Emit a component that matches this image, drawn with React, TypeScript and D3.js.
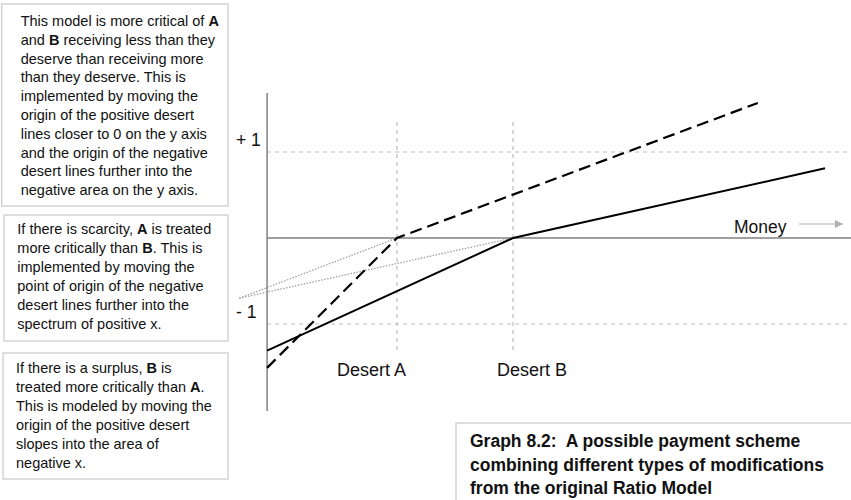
import React from "react";
import * as d3 from "d3";

// ---- data ----
const deserts = [
  { name: "Desert A", x: 1 },
  { name: "Desert B", x: 2 },
];
const yTicks = [
  { value: 1, label: "+ 1" },
  { value: -1, label: "- 1" },
];
const axisX = -0.12; // x position of the vertical axis (money units)
const lineA: [number, number][] = [
  [-0.12, -1.51],
  [1, 0],
  [4.11, 1.57],
];
const lineB: [number, number][] = [
  [-0.12, -1.31],
  [2, 0],
  [4.69, 0.81],
];
const dottedOrigin: [number, number] = [-0.36, -0.7];
const dottedTargets: [number, number][] = [
  [1, 0],
  [2, 0],
];
const xLabel = "Money";

type Seg = { t: string; b?: boolean };
const note1: Seg[][] = [
  [{ t: "This model is more critical of " }, { t: "A", b: true }],
  [{ t: "and " }, { t: "B", b: true }, { t: " receiving less than they" }],
  [{ t: "deserve than receiving more" }],
  [{ t: "than they deserve. This is" }],
  [{ t: "implemented by moving the" }],
  [{ t: "origin of the positive desert" }],
  [{ t: "lines closer to 0 on the y axis" }],
  [{ t: "and the origin of the negative" }],
  [{ t: "desert lines further into the" }],
  [{ t: "negative area on the y axis." }],
];
const note2: Seg[][] = [
  [{ t: "If there is scarcity, " }, { t: "A", b: true }, { t: " is treated" }],
  [{ t: "more critically than " }, { t: "B", b: true }, { t: ". This is" }],
  [{ t: "implemented by moving the" }],
  [{ t: "point of origin of the negative" }],
  [{ t: "desert lines further into the" }],
  [{ t: "spectrum of positive x." }],
];
const note3: Seg[][] = [
  [{ t: "If there is a surplus, " }, { t: "B", b: true }, { t: " is" }],
  [{ t: "treated more critically than " }, { t: "A", b: true }, { t: "." }],
  [{ t: "This is modeled by moving the" }],
  [{ t: "origin of the positive desert" }],
  [{ t: "slopes into the area of" }],
  [{ t: "negative x." }],
];
const caption = [
  "Graph 8.2:  A possible payment scheme",
  "combining different types of modifications",
  "from the original Ratio Model",
];

const FONT = "'Liberation Sans', Arial, Helvetica, sans-serif";

function NoteBox({
  lines,
  x,
  y,
  w,
  h,
  tx,
  ty,
  lh,
}: {
  lines: Seg[][];
  x: number;
  y: number;
  w: number;
  h: number;
  tx: number;
  ty: number;
  lh: number;
}) {
  return (
    <g>
      <rect x={x} y={y} width={w} height={h} fill="#fff" stroke="#c8c8c8" strokeWidth={1.2} />
      <text fontFamily={FONT} fontSize={14.5} fill="#111">
        {lines.map((segs, i) => (
          <tspan key={i} x={tx} y={ty + i * lh}>
            {segs.map((s, j) => (
              <tspan key={j} fontWeight={s.b ? "bold" : "normal"}>
                {s.t}
              </tspan>
            ))}
          </tspan>
        ))}
      </text>
    </g>
  );
}

export default function App() {
  const W = 851;
  const H = 500;
  const x = d3.scaleLinear().domain([0, 1]).range([281, 397]);
  const y = d3.scaleLinear().domain([-1, 1]).range([324, 152]);
  const line = d3
    .line<[number, number]>()
    .x((d) => x(d[0]))
    .y((d) => y(d[1]));

  const x0 = x(axisX);
  const xEnd = W;

  return (
    <svg
      width={W}
      height={H}
      style={{ position: "absolute", left: 0, top: 0, background: "#fff" }}
      fontFamily={FONT}
    >
      <defs>
        <marker id="arr" viewBox="0 0 10 10" refX="10" refY="5" markerWidth="8" markerHeight="8" markerUnits="userSpaceOnUse" orient="auto">
          <path d="M0,0 L10,5 L0,10 Z" fill="#b0b0b0" />
        </marker>
      </defs>

      {/* grid lines at +1 / -1 */}
      {yTicks.map((t) => (
        <line
          key={t.label}
          x1={x0}
          x2={xEnd}
          y1={y(t.value)}
          y2={y(t.value)}
          stroke="#bdbdbd"
          strokeWidth={1.2}
          strokeDasharray="4,4"
        />
      ))}
      {yTicks.map((t) => (
        <text key={"l" + t.label} x={236} y={y(t.value) - 6.5} fontSize={17.5} fill="#111">
          {t.label}
        </text>
      ))}

      {/* desert verticals */}
      {deserts.map((d) => (
        <line
          key={d.name}
          x1={x(d.x)}
          x2={x(d.x)}
          y1={122}
          y2={353}
          stroke="#bdbdbd"
          strokeWidth={1.2}
          strokeDasharray="4,4"
        />
      ))}
      {deserts.map((d, i) => (
        <text key={"t" + d.name} x={x(d.x) + (i === 0 ? -60 : -16)} y={376} fontSize={18} fill="#111">
          {d.name}
        </text>
      ))}

      {/* axes */}
      <line x1={x0} x2={x0} y1={93} y2={411} stroke="#808080" strokeWidth={1.5} />
      <line x1={x0} x2={xEnd} y1={y(0)} y2={y(0)} stroke="#808080" strokeWidth={1.5} />
      <text x={734} y={233} fontSize={17.5} fill="#111">
        {xLabel}
      </text>
      <line x1={799} x2={843} y1={224} y2={224} stroke="#b0b0b0" strokeWidth={1.2} markerEnd="url(#arr)" />

      {/* dotted extensions */}
      {dottedTargets.map((t, i) => (
        <path
          key={i}
          d={line([dottedOrigin, t]) || ""}
          fill="none"
          stroke="#a0a0a0"
          strokeWidth={1.3}
          strokeDasharray="1.5,1.5"
        />
      ))}

      {/* desert lines */}
      <path d={line(lineB) || ""} fill="none" stroke="#000" strokeWidth={2} />
      <path d={line(lineA) || ""} fill="none" stroke="#000" strokeWidth={2.2} strokeDasharray="12,6" />

      {/* note boxes */}
      <NoteBox lines={note1} x={1.7} y={4} w={226.3} h={202} tx={20.7} ty={26} lh={18.8} />
      <NoteBox lines={note2} x={4} y={215} w={224} h={126} tx={17.3} ty={234.3} lh={18.9} />
      <NoteBox lines={note3} x={3} y={353} w={225} h={126} tx={16} ty={373.3} lh={19} />

      {/* caption */}
      <rect x={456} y={423} width={420} height={100} fill="#fff" stroke="#c8c8c8" strokeWidth={1.2} />
      <text fontSize={17.5} fontWeight="bold" fill="#111">
        {caption.map((c, i) => (
          <tspan key={i} x={470} y={447 + i * 23.5} style={{ whiteSpace: "pre" }}>
            {c}
          </tspan>
        ))}
      </text>
    </svg>
  );
}
